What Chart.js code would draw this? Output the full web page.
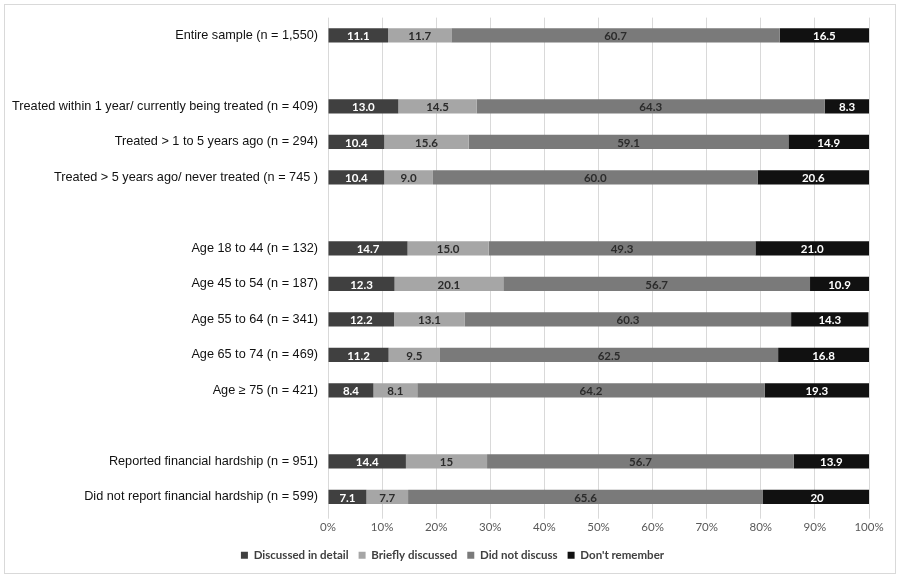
<!DOCTYPE html>
<html>
<head>
<meta charset="utf-8">
<script src="https://cdn.jsdelivr.net/npm/chart.js@4"></script>
<style>
  html, body { margin: 0; padding: 0; background: #fff; }
  #wrap { width: 900px; height: 578px; position: relative; }
</style>
</head>
<body>
<div id="wrap"><canvas id="chart" width="900" height="578"></canvas></div>
<script>
// righe del grafico (le stringhe vuote sono le righe di separazione)
const categorie = [
    "Entire sample (n = 1,550)",
    "",
    "Treated within 1 year/ currently being treated (n = 409)",
    "Treated > 1 to 5 years ago (n = 294)",
    "Treated > 5 years ago/ never treated (n = 745 )",
    "",
    "Age 18 to 44 (n = 132)",
    "Age 45 to 54 (n = 187)",
    "Age 55 to 64 (n = 341)",
    "Age 65 to 74 (n = 469)",
    "Age \u2265 75 (n = 421)",
    "",
    "Reported financial hardship (n = 951)",
    "Did not report financial hardship (n = 599)"
];

// valori come stampati sulle barre
const discussoDettaglio = ["11.1", null, "13.0", "10.4", "10.4", null, "14.7", "12.3", "12.2", "11.2", "8.4", null, "14.4", "7.1"];
const discussoBreve     = ["11.7", null, "14.5", "15.6", "9.0", null, "15.0", "20.1", "13.1", "9.5", "8.1", null, "15", "7.7"];
const nonDiscusso       = ["60.7", null, "64.3", "59.1", "60.0", null, "49.3", "56.7", "60.3", "62.5", "64.2", null, "56.7", "65.6"];
const nonRicordo        = ["16.5", null, "8.3", "14.9", "20.6", null, "21.0", "10.9", "14.3", "16.8", "19.3", null, "13.9", "20"];

const tickPercentuali = ["0%", "10%", "20%", "30%", "40%", "50%", "60%", "70%", "80%", "90%", "100%"];

const serie = [
    { label: "Discussed in detail", data: discussoDettaglio, colore: "#404040", testo: "#ffffff" },
    { label: "Briefly discussed",   data: discussoBreve,     colore: "#a6a6a6", testo: "#2b2b2b" },
    { label: "Did not discuss",     data: nonDiscusso,       colore: "#7a7a7a", testo: "#2b2b2b" },
    { label: "Don't remember",      data: nonRicordo,        colore: "#111111", testo: "#ffffff" }
];

// bordo esterno e sfondo
const cornice = {
    id: "cornice",
    beforeDraw(chart) {
        const ctx = chart.ctx;
        ctx.save();
        ctx.fillStyle = "#ffffff";
        ctx.fillRect(0, 0, chart.width, chart.height);
        ctx.strokeStyle = "#d9d9d9";
        ctx.lineWidth = 1;
        ctx.strokeRect(4.5, 4.5, chart.width - 9, chart.height - 9);
        ctx.restore();
    },
    // legenda centrata sulla pagina come nell'originale
    afterLayout(chart) {
        if (chart.legend) chart.legend.left = 36;
    }
};

// etichette dei valori al centro di ogni segmento
const etichette = {
    id: "etichette",
    afterDatasetsDraw(chart) {
        const ctx = chart.ctx;
        ctx.save();
        ctx.font = "bold 11.5px Lato, 'Open Sans', sans-serif";
        ctx.textAlign = "center";
        ctx.textBaseline = "middle";
        chart.data.datasets.forEach((ds, i) => {
            const meta = chart.getDatasetMeta(i);
            meta.data.forEach((bar, j) => {
                const v = ds.data[j];
                if (v === null) return;
                const p = bar.getCenterPoint();
                ctx.fillStyle = serie[i].testo;
                ctx.fillText(v, p.x, p.y + 1);
            });
        });
        ctx.restore();
    }
};

new Chart(document.getElementById("chart"), {
    type: "bar",
    data: {
        labels: categorie,
        datasets: serie.map(s => ({
            label: s.label,
            data: s.data,
            backgroundColor: s.colore,
            borderWidth: 0,
            barPercentage: 0.8,
            categoryPercentage: 0.5
        }))
    },
    options: {
        responsive: false,
        animation: false,
        indexAxis: "y",
        layout: { padding: { top: 17, right: 31, left: 0, bottom: 7 } },
        plugins: {
            tooltip: { enabled: false },
            legend: {
                position: "bottom",
                labels: {
                    boxWidth: 7,
                    boxHeight: 7,
                    padding: 10,
                    color: "#404040",
                    font: { family: "Lato, 'Open Sans', sans-serif", size: 11.5, weight: "bold" }
                }
            }
        },
        scales: {
            x: {
                stacked: true,
                min: 0,
                max: 100,
                border: { display: false },
                grid: { color: "#d9d9d9", lineWidth: 1, tickLength: 4, drawTicks: true },
                afterFit(scale) { scale.height += 3; },
                ticks: {
                    stepSize: 10,
                    padding: 2,
                    color: "#595959",
                    font: { family: "Lato, 'Open Sans', sans-serif", size: 11.5 },
                    callback: (v, i) => tickPercentuali[i]
                }
            },
            y: {
                stacked: true,
                border: { display: false },
                grid: { display: false, drawTicks: false },
                afterFit(scale) { scale.width = 328; },
                ticks: {
                    color: "#111111",
                    padding: 10,
                    font: { family: "'Liberation Sans', Arial, sans-serif", size: 12.7 }
                }
            }
        }
    },
    plugins: [cornice, etichette]
});
</script>
</body>
</html>
